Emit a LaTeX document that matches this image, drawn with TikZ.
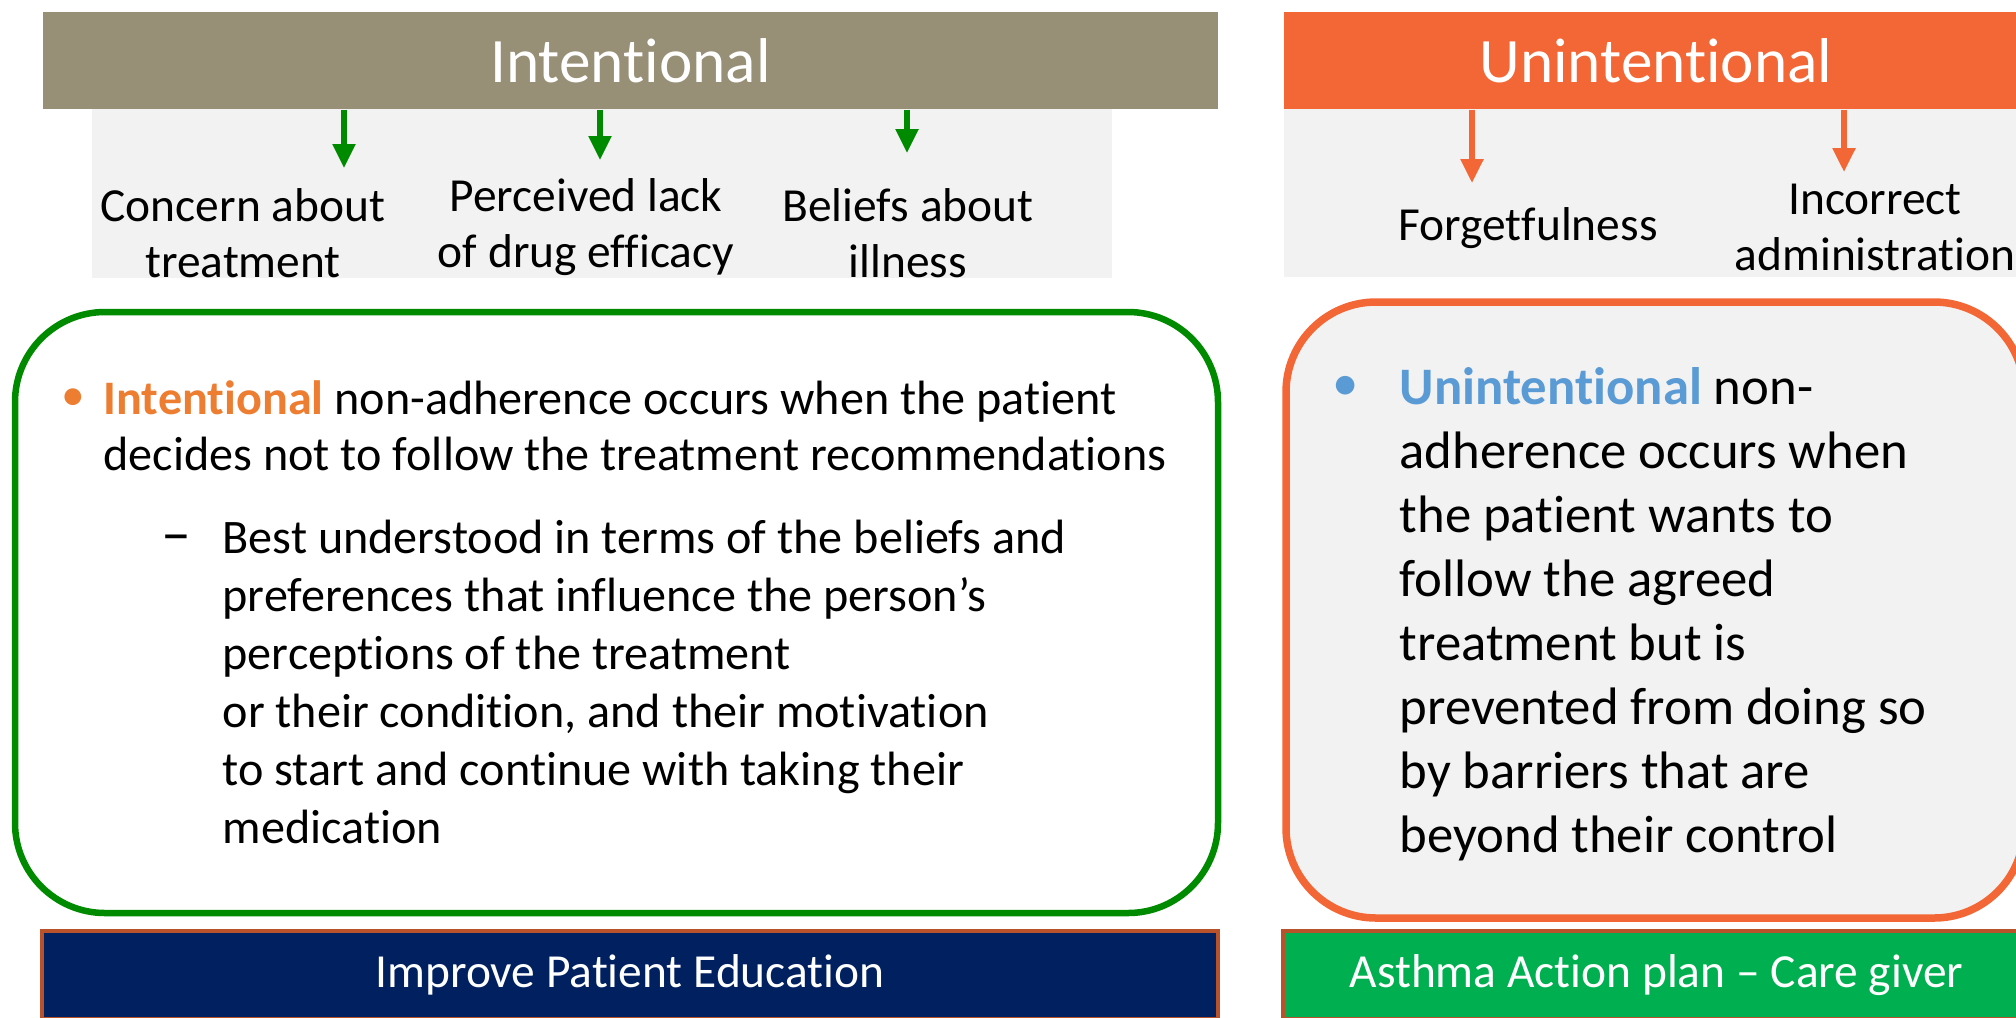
\documentclass[tikz,border=0pt]{standalone}
\usepackage{fontspec}
\setmainfont{Carlito}[Ligatures=NoCommon]
\usepackage{xcolor}
\usepackage{tikz}
\usetikzlibrary{arrows.meta}

\definecolor{cIntHead}{RGB}{152,143,119}
\definecolor{cUnHead}{RGB}{242,103,53}
\definecolor{cPanel}{RGB}{242,242,242}
\definecolor{cGreen}{RGB}{0,138,0}
\definecolor{cNavy}{RGB}{0,32,96}
\definecolor{cGreenBar}{RGB}{0,176,80}
\definecolor{cRust}{RGB}{183,82,43}
\definecolor{cOrangeText}{RGB}{237,125,49}
\definecolor{cBlueText}{RGB}{91,155,213}

\tikzstyle{tsHeader} = [
    rectangle,
    text=white,
    font=\fontsize{18}{22}\selectfont,
    inner sep=0pt
]
\tikzstyle{tsPanel} = [
    rectangle,
    fill=cPanel,
    inner sep=0pt
]
\tikzstyle{tsLabel} = [
    text=black,
    font=\fontsize{13.5}{15.9}\selectfont,
    align=center,
    inner sep=0pt
]
\tikzstyle{tsArrow} = [
    -{Triangle[width=2.2mm,length=2.4mm]},
    line width=0.55mm
]
\tikzstyle{tsRound} = [
    rectangle,
    rounded corners=9mm,
    line width=0.65mm,
    inner sep=0pt
]
\tikzstyle{tsBody} = [
    anchor=base west,
    align=left,
    text=black,
    inner sep=0pt
]
\tikzstyle{tsBar} = [
    rectangle,
    draw=cRust,
    line width=0.4mm,
    text=white,
    font=\fontsize{13.5}{16}\selectfont,
    inner sep=0pt
]

\begin{document}
\begin{tikzpicture}[x=0.1mm, y=-0.1mm]

    \useasboundingbox (0,0) rectangle (2016,1017);
    \clip (0,0) rectangle (2016,1017);

    % intentional side
    \node[  tsPanel,
            minimum width=102mm,
            minimum height=16.9mm] (intPanel) at (602,193.5) {};
    \node[  tsHeader,
            fill=cIntHead,
            minimum width=117.5mm,
            minimum height=9.7mm] (intHead) at (630.5,60.5) {Intentional};

    \coordinate (tipConcern) at (344,168);
    \coordinate (tipPerceived) at (600,160);
    \coordinate (tipBeliefs) at (907,153);
    \draw[tsArrow, cGreen] (intHead.south -| tipConcern) -- (tipConcern);
    \draw[tsArrow, cGreen] (intHead.south -| tipPerceived) -- (tipPerceived);
    \draw[tsArrow, cGreen] (intHead.south -| tipBeliefs) -- (tipBeliefs);

    \node[tsLabel] (concern) at (243,233) {Concern about\\treatment};
    \node[tsLabel] (perceived) at (586,227) {Perceived lack\\of drug efficacy};
    \node[tsLabel] (beliefs) at (908,233) {Beliefs about\\illness};

    % unintentional side
    \node[  tsPanel,
            minimum width=74.4mm,
            minimum height=16.8mm] (unPanel) at (1656,193) {};
    \node[  tsHeader,
            fill=cUnHead,
            minimum width=74.4mm,
            minimum height=9.7mm] (unHead) at (1656,60.5) {Unintentional};

    \coordinate (tipForget) at (1472,183);
    \coordinate (tipIncorrect) at (1844,172);
    \draw[tsArrow, cUnHead] (unHead.south -| tipForget) -- (tipForget);
    \draw[tsArrow, cUnHead] (unHead.south -| tipIncorrect) -- (tipIncorrect);

    \node[tsLabel] (forget) at (1528,228) {Forgetfulness};
    \node[tsLabel] (incorrect) at (1875,227) {Incorrect\\administration};

    % rounded boxes
    \node[  tsRound,
            draw=cGreen,
            fill=white,
            minimum width=120.3mm,
            minimum height=60.1mm] (intBox) at (616.5,612.5) {};
    \node[  tsRound,
            draw=cUnHead,
            fill=cPanel,
            line width=0.75mm,
            minimum width=73.8mm,
            minimum height=61.6mm] (unBox) at (1655,610) {};

    % base anchor = last line
    \node[text=cOrangeText, font=\fontsize{13.5}{16}\selectfont] (intDot) at (73,400) {•};
    \node[tsBody, font=\fontsize{13.7}{15.9}\selectfont] (intText) at (103,470)
        {\textcolor{cOrangeText}{\textbf{Intentional}} non-adherence occurs when the patient\\
         decides not to follow the treatment recommendations};
    \node[tsBody, font=\fontsize{17}{18}\selectfont] (intDash) at (161,553) {–};
    \node[tsBody, font=\fontsize{13.7}{16.5}\selectfont] (intSub) at (222,843)
        {Best understood in terms of the beliefs and\\
         preferences that influence the person’s\\
         perceptions of the treatment\\
         or their condition, and their motivation\\
         to start and continue with taking their\\
         medication};

    \node[text=cBlueText, font=\fontsize{15}{18}\selectfont] (unDot) at (1346,388) {•};
    \node[tsBody, font=\fontsize{15}{18.2}\selectfont] (unText) at (1399,852)
        {\textcolor{cBlueText}{\textbf{Unintentional}} non-\\
         adherence occurs when\\
         the patient wants to\\
         follow the agreed\\
         treatment but is\\
         prevented from doing so\\
         by barriers that are\\
         beyond their control};

    % bottom bars
    \node[  tsBar,
            fill=cNavy,
            minimum width=117.6mm,
            minimum height=8.8mm] (eduBar) at (630,975) {Improve Patient Education};
    \node[  tsBar,
            fill=cGreenBar,
            minimum width=74.7mm,
            minimum height=8.8mm] (planBar) at (1656.5,975) {Asthma Action plan – Care giver};

\end{tikzpicture}
\end{document}
